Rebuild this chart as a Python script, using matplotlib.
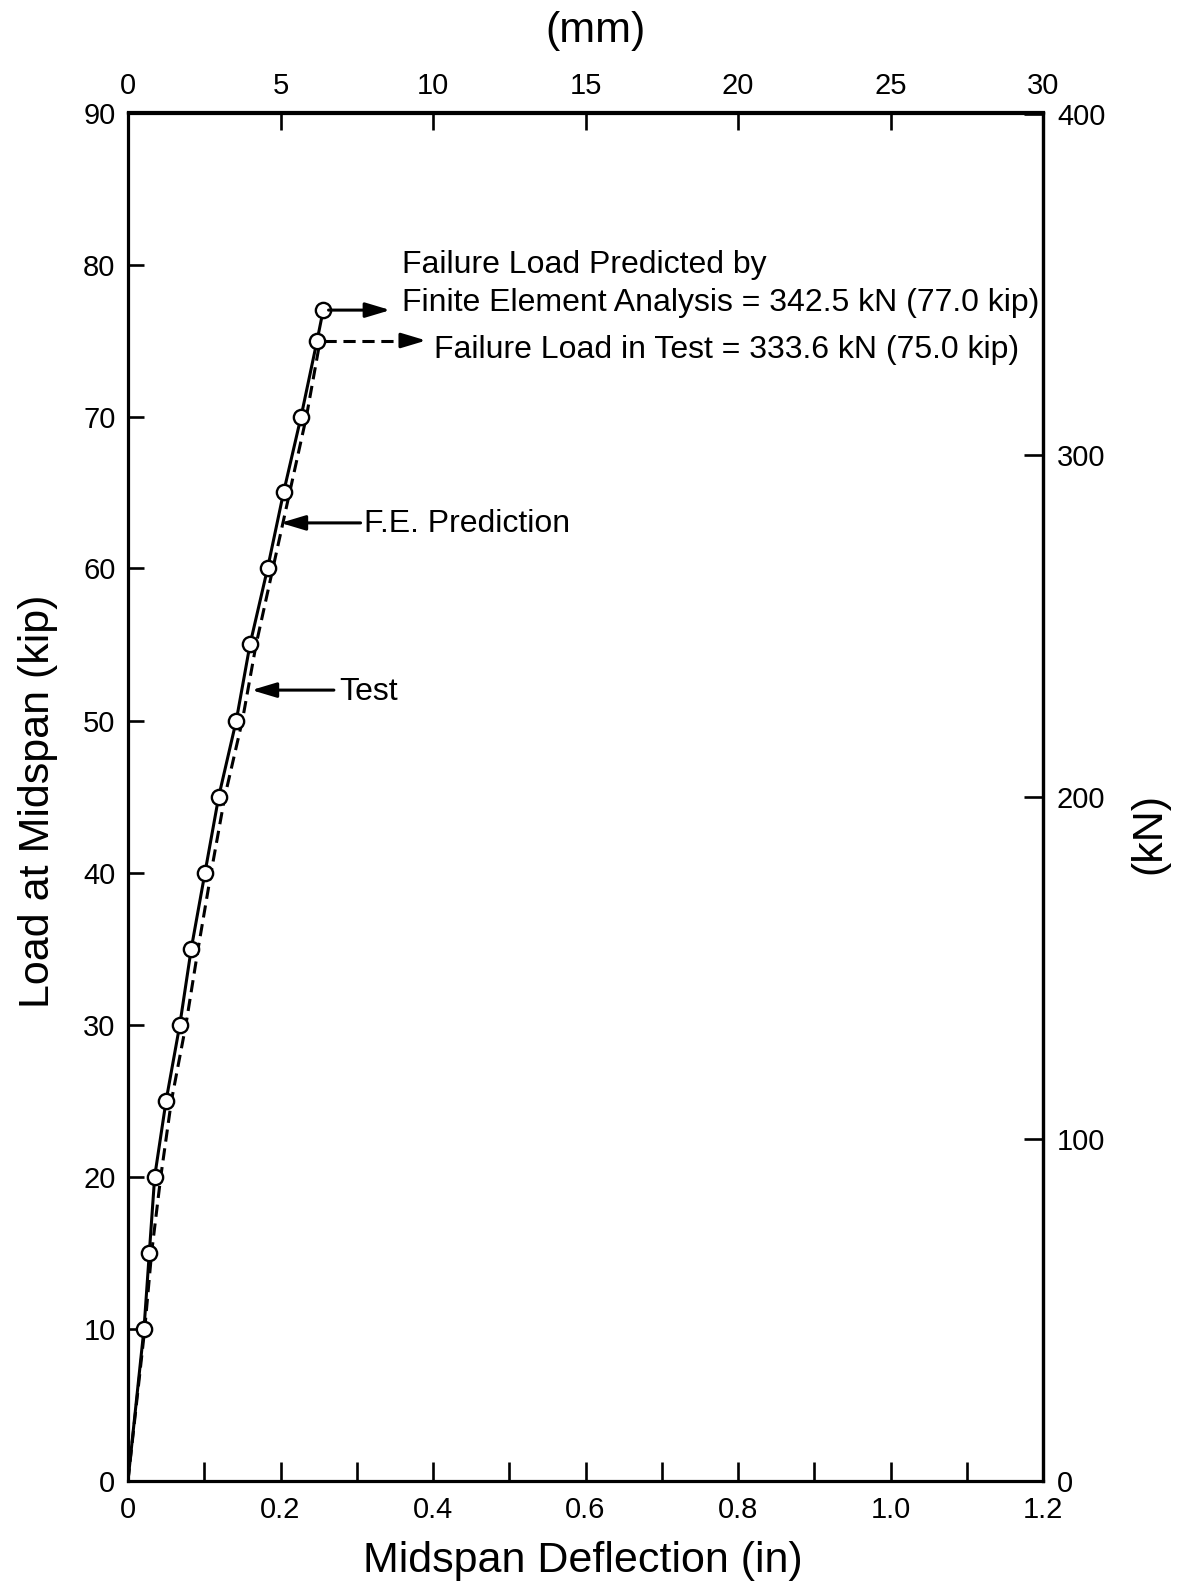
import matplotlib
matplotlib.use('Agg')
import matplotlib.pyplot as plt
from matplotlib.ticker import MultipleLocator

plt.rcParams['font.family'] = ['Liberation Sans', 'DejaVu Sans']

# F.E. prediction (solid line with circles), load in kip, deflection in in
fe_load = [0, 10, 15, 20, 25, 30, 35, 40, 45, 50, 55, 60, 65, 70, 75, 77]
fe_defl = [0, 0.021, 0.028, 0.035, 0.050, 0.068, 0.083, 0.101, 0.119, 0.142,
           0.160, 0.183, 0.204, 0.227, 0.248, 0.256]

# test (dashed line)
test_load = [0, 10, 15, 20, 25, 30, 35, 40, 45, 50, 55, 60, 65, 70, 75]
test_defl = [0, 0.022, 0.031, 0.043, 0.057, 0.076, 0.092, 0.109, 0.127, 0.150,
             0.168, 0.190, 0.212, 0.234, 0.252]

x_ticks = [0, 0.2, 0.4, 0.6, 0.8, 1.0, 1.2]
x_labels = ['0', '0.2', '0.4', '0.6', '0.8', '1.0', '1.2']
mm_ticks = [0, 5, 10, 15, 20, 25, 30]
kn_ticks = [0, 100, 200, 300, 400]

KIP_TO_KN = 4.448

W, H = 1178, 1589
fig = plt.figure(figsize=(W / 100, H / 100), dpi=100)
ax = fig.add_axes([128 / W, 1 - 1480.5 / H, 915 / W, 1368 / H])

lw_ax = 2.3
lw_line = 2.2
tick_fs = 21

# no circle at the origin
ax.plot(fe_defl, fe_load, color='black', lw=lw_line, marker='o', markersize=11,
        markerfacecolor='white', markeredgecolor='black', markeredgewidth=1.7,
        markevery=list(range(1, len(fe_load))), zorder=4)
ax.plot(test_defl, test_load, color='black', lw=lw_line, dashes=(4, 2.2), zorder=3)

ax.set_xlim(0, 1.2)
ax.set_ylim(0, 90)

for s in ax.spines.values():
    s.set_linewidth(lw_ax)

ax.set_xticks(x_ticks)
ax.set_xticklabels(x_labels)
ax.xaxis.set_minor_locator(MultipleLocator(0.1))
ax.yaxis.set_major_locator(MultipleLocator(10))
ax.tick_params(axis='x', which='both', direction='in', length=14, width=1.9,
               pad=11, labelsize=tick_fs)
ax.tick_params(axis='y', which='both', direction='in', length=11.5, width=1.9,
               pad=9, labelsize=tick_fs)

# top axis in mm
top = ax.secondary_xaxis('top', functions=(lambda x: x * 25, lambda m: m / 25))
top.set_xticks(mm_ticks)
top.tick_params(direction='in', length=13, width=1.9, pad=9, labelsize=tick_fs)
top.spines['top'].set_linewidth(lw_ax)

# right axis in kN
right = ax.secondary_yaxis('right', functions=(lambda k: k * KIP_TO_KN,
                                               lambda n: n / KIP_TO_KN))
right.set_yticks(kn_ticks)
right.tick_params(direction='in', length=14, width=1.9, pad=10, labelsize=tick_fs)
right.spines['right'].set_linewidth(lw_ax)

# failure load arrows
ann_fs = 23
head = dict(arrowstyle='-|>,head_length=15,head_width=4.5', mutation_scale=1,
            color='black', lw=lw_line, shrinkA=0, shrinkB=0)
ax.annotate('', xy=(0.344, 77), xytext=(0.263, 77), arrowprops=head, zorder=5)
ax.plot([0.257, 0.370], [75, 75], color='black', lw=lw_line, dashes=(4, 2.2))
ax.annotate('', xy=(0.391, 75), xytext=(0.368, 75), arrowprops=head, zorder=5)

ax.text(0.359, 79.95, 'Failure Load Predicted by', fontsize=ann_fs,
        ha='left', va='center')
ax.text(0.359, 77.45, 'Finite Element Analysis = 342.5 kN (77.0 kip)',
        fontsize=ann_fs, ha='left', va='center')
ax.text(0.4015, 74.4, 'Failure Load in Test = 333.6 kN (75.0 kip)',
        fontsize=ann_fs, ha='left', va='center')

# curve labels
ax.annotate('', xy=(0.200, 63.0), xytext=(0.305, 63.0), arrowprops=head)
ax.text(0.310, 62.9, 'F.E. Prediction', fontsize=ann_fs, ha='left', va='center')
ax.annotate('', xy=(0.162, 52.0), xytext=(0.270, 52.0), arrowprops=head)
ax.text(0.2766, 51.9, 'Test', fontsize=ann_fs, ha='left', va='center')

# axis titles
lab_fs = 31
fig.text(583 / W, 1 - 1561 / H, 'Midspan Deflection (in)', fontsize=lab_fs,
         ha='center', va='center')
fig.text(38 / W, 1 - 801 / H, 'Load at Midspan (kip)', fontsize=lab_fs,
         ha='center', va='center', rotation=90)
fig.text(596 / W, 1 - 31 / H, '(mm)', fontsize=lab_fs, ha='center', va='center')
fig.text(1149 / W, 1 - 833 / H, '(kN)', fontsize=lab_fs, ha='center',
         va='center', rotation=90)

fig.savefig('out.png', dpi=100, facecolor='white')
